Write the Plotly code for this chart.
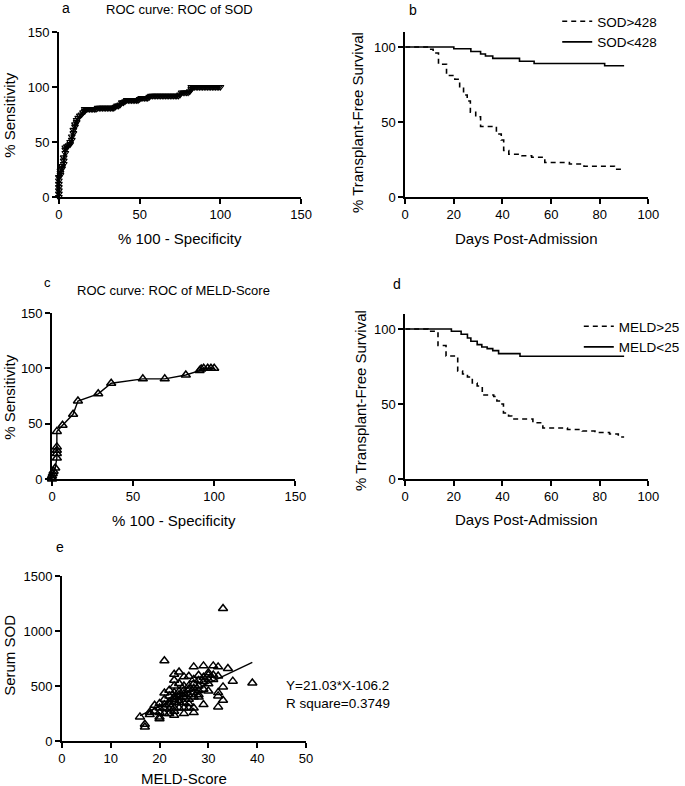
import plotly.graph_objects as go

W, H = 685, 786
FONT = "Liberation Sans, Arial, sans-serif"

# ---------------- data ----------------
# Panel a: ROC of SOD
spec_sod = [0, 0, 0, 0, 0, 0, 0, 1, 1, 1, 2, 2, 3, 3, 3, 4, 4, 4, 5, 6, 7, 7, 8, 8, 9, 9,
            10, 10, 11, 11, 12, 13, 14, 15, 16, 16, 17, 18, 19, 20, 21, 22, 23, 24, 25, 26,
            27, 28, 29, 30, 31, 32, 33, 34, 35, 36, 37, 38, 39, 40, 41, 42, 43, 44, 45, 46,
            47, 48, 49, 50, 51, 52, 53, 54, 55, 56, 57, 58, 59, 60, 61, 62, 63, 64, 65, 66,
            67, 68, 69, 70, 71, 72, 73, 74, 75, 76, 77, 78, 79, 80, 81, 82, 82, 83, 84, 85,
            86, 87, 88, 89, 90, 91, 92, 93, 94, 95, 96, 97, 98, 99, 100]
sens_sod = [0, 3, 6, 9, 12, 15, 18, 20, 22, 24, 26, 28, 30, 33, 36, 40, 43, 45, 46, 47, 48, 50,
            52, 55, 58, 61, 64, 66, 68, 70, 72, 74, 75, 77, 78, 80, 80, 80, 80, 80, 80, 80,
            80, 81, 81, 81, 81, 81, 81, 81, 81, 81, 81, 81, 82, 83, 83, 84, 86, 86, 87, 88,
            88, 88, 88, 88, 88, 88, 88, 89, 90, 90, 90, 90, 90, 91, 92, 92, 92, 92, 92, 92,
            92, 92, 92, 92, 92, 92, 92, 92, 92, 92, 92, 92, 93, 95, 95, 95, 95, 95, 96, 98,
            100, 100, 100, 100, 100, 100, 100, 100, 100, 100, 100, 100, 100, 100, 100, 100,
            100, 100, 100]

# Panel b: Kaplan-Meier by SOD
sod_hi_days = [0, 9.7, 11.5, 13.7, 17, 20.4, 22.4, 24, 25.5, 26.8, 29, 31, 37.5, 39.5, 40.5,
               42.6, 48, 52, 57.4, 67.5, 73.5, 86, 90]
sod_hi_surv = [100, 98.5, 96, 88.5, 81, 78.5, 73.5, 68, 64, 56.5, 53.5, 47, 42, 38, 31,
               28.5, 27.5, 26.5, 23, 22, 20.5, 18.5, 18.5]
sod_lo_days = [0, 20, 27, 31, 33, 36, 47, 53, 82, 90]
sod_lo_surv = [100, 98.8, 97, 95.3, 94, 92.4, 90.5, 89, 87.5, 87.5]

# Panel c: ROC of MELD-Score
spec_meld = [0, 0, 0, 0.5, 1, 2, 3, 3, 3, 3, 3, 6.5, 13, 16, 28.5, 36.5, 56, 69.5, 82.5,
             91, 92, 93.5, 96, 98, 100]
sens_meld = [0, 1, 3, 5, 7, 10, 19, 23, 26, 29, 43, 48.5, 58.5, 70.5, 77, 86.5, 90.5, 90.5,
             94, 98, 99.5, 100, 100, 100, 100]

# Panel d: Kaplan-Meier by MELD
meld_hi_days = [0, 9.4, 13.5, 16.8, 20.2, 21.6, 23.6, 25.6, 27.6, 29.6, 31.7, 36.4, 37.7,
                39.8, 40.4, 42.5, 43.8, 52.5, 56.6, 66.7, 72.8, 78, 84, 87.6, 90]
meld_hi_surv = [100, 98.5, 89, 82, 80.5, 72, 70, 68, 64, 62, 56, 55, 52, 50, 44, 42, 40,
                37.5, 34, 33, 32, 31, 30, 28, 28]
meld_lo_days = [0, 19, 23, 25.6, 27, 29.6, 31.5, 33.7, 36, 38.4, 47.2, 90]
meld_lo_surv = [100, 98.5, 96.5, 94, 91.8, 89.6, 88, 86.9, 85.6, 83.6, 81.8, 81.8]

# Panel e: MELD vs serum SOD
meld_score = [16, 17, 17, 18, 18, 19, 19, 20, 20, 20, 20, 20, 21, 21, 21, 21, 21, 21,
              22, 22, 22, 22, 22, 22, 23, 23, 23, 23, 23, 23, 23, 23, 23, 23,
              24, 24, 24, 24, 24, 24, 24, 24, 25, 25, 25, 25, 25, 25, 25, 25,
              26, 26, 26, 26, 26, 26, 26, 27, 27, 27, 27, 27, 27, 27, 27,
              28, 28, 28, 28, 28, 28, 29, 29, 29, 29, 29, 30, 30, 30, 30, 30,
              31, 31, 31, 32, 32, 32, 32, 32, 33, 33, 33, 34, 35, 39]
serum_sod = [219, 152, 128, 240, 262, 325, 270, 203, 219, 340, 300, 260, 729, 437, 380, 300,
             250, 330, 462, 355, 290, 410, 250, 330, 607, 553, 501, 234, 400, 350, 300, 270,
             440, 380, 628, 522, 450, 400, 350, 300, 420, 370, 583, 249, 500, 460, 400, 350,
             300, 430, 589, 501, 420, 470, 380, 300, 340, 674, 258, 520, 480, 440, 400, 300,
             560, 598, 550, 500, 460, 420, 400, 683, 331, 580, 540, 470, 455, 600, 560, 520,
             620, 683, 600, 560, 674, 310, 440, 410, 590, 1205, 492, 370, 659, 544, 528]
fit_x = [16, 39]
fit_y = [230, 714]

# ---------------- helpers ----------------
def fx(px):
    return px / W

def fy(py):
    return 1 - py / H

axis_style = dict(
    showline=True, linecolor="black", linewidth=1.6,
    ticks="outside", ticklen=5, tickwidth=1.5, tickcolor="black",
    showgrid=False, zeroline=False, automargin=False,
    tickfont=dict(family=FONT, size=13, color="black"),
)

fig = go.Figure()

# a
fig.add_trace(go.Scatter(
    x=spec_sod, y=sens_sod, mode="lines+markers", xaxis="x", yaxis="y",
    line=dict(color="black", width=2.5),
    marker=dict(symbol="triangle-down-open", size=6, color="black", line=dict(width=1.2)),
    cliponaxis=False, showlegend=False))

# b
fig.add_trace(go.Scatter(
    x=sod_hi_days, y=sod_hi_surv, mode="lines", line_shape="hv", xaxis="x2", yaxis="y2",
    line=dict(color="black", width=1.6, dash="5px,4px"), name="SOD>428", legend="legend"))
fig.add_trace(go.Scatter(
    x=sod_lo_days, y=sod_lo_surv, mode="lines", line_shape="hv", xaxis="x2", yaxis="y2",
    line=dict(color="black", width=1.6), name="SOD<428", legend="legend"))

# c
fig.add_trace(go.Scatter(
    x=spec_meld, y=sens_meld, mode="lines+markers", xaxis="x3", yaxis="y3",
    line=dict(color="black", width=1.4),
    marker=dict(symbol="triangle-up-open", size=8, color="black", line=dict(width=1.5)),
    cliponaxis=False, showlegend=False))

# d
fig.add_trace(go.Scatter(
    x=meld_hi_days, y=meld_hi_surv, mode="lines", line_shape="hv", xaxis="x4", yaxis="y4",
    line=dict(color="black", width=1.6, dash="5px,4px"), name="MELD>25", legend="legend2"))
fig.add_trace(go.Scatter(
    x=meld_lo_days, y=meld_lo_surv, mode="lines", line_shape="hv", xaxis="x4", yaxis="y4",
    line=dict(color="black", width=1.6), name="MELD<25", legend="legend2"))

# e
fig.add_trace(go.Scatter(
    x=meld_score, y=serum_sod, mode="markers", xaxis="x5", yaxis="y5",
    marker=dict(symbol="triangle-up-open", size=8, color="black", line=dict(width=1.5)),
    cliponaxis=False, showlegend=False))
fig.add_trace(go.Scatter(
    x=fit_x, y=fit_y, mode="lines", xaxis="x5", yaxis="y5",
    line=dict(color="black", width=1.4), showlegend=False))

fig.update_layout(
    width=W, height=H, margin=dict(l=0, r=0, t=0, b=0),
    paper_bgcolor="white", plot_bgcolor="white",
    font=dict(family=FONT, size=13, color="black"),
    xaxis=dict(domain=[fx(60), fx(307)], anchor="y", range=[0, 150], tickvals=[0, 50, 100, 150], **axis_style),
    yaxis=dict(domain=[fy(197), fy(32)], anchor="x", range=[0, 150], tickvals=[0, 50, 100, 150], **axis_style),
    xaxis2=dict(domain=[fx(413), fx(661)], anchor="y2", range=[0, 100], tickvals=[0, 20, 40, 60, 80, 100], **axis_style),
    yaxis2=dict(domain=[fy(197), fy(32)], anchor="x2", range=[0, 110], tickvals=[0, 50, 100], **axis_style),
    xaxis3=dict(domain=[fx(53), fx(301)], anchor="y3", range=[0, 150], tickvals=[0, 50, 100, 150], **axis_style),
    yaxis3=dict(domain=[fy(479), fy(313)], anchor="x3", range=[0, 150], tickvals=[0, 50, 100, 150], **axis_style),
    xaxis4=dict(domain=[fx(413), fx(661)], anchor="y4", range=[0, 100], tickvals=[0, 20, 40, 60, 80, 100], **axis_style),
    yaxis4=dict(domain=[fy(479), fy(314)], anchor="x4", range=[0, 110], tickvals=[0, 50, 100], **axis_style),
    xaxis5=dict(domain=[fx(63), fx(312)], anchor="y5", range=[0, 50], tickvals=[0, 10, 20, 30, 40, 50], **axis_style),
    yaxis5=dict(domain=[fy(741), fy(576)], anchor="x5", range=[0, 1500], tickvals=[0, 500, 1000, 1500], **axis_style),
    legend=dict(x=fx(568), y=fy(6), xanchor="left", yanchor="top", bgcolor="rgba(0,0,0,0)",
                font=dict(family=FONT, size=13.5, color="black"), tracegroupgap=0, itemwidth=30),
    legend2=dict(x=fx(590), y=fy(311), xanchor="left", yanchor="top", bgcolor="rgba(0,0,0,0)",
                 font=dict(family=FONT, size=13.5, color="black"), tracegroupgap=0, itemwidth=30),
)

def ann(text, x, y, size=13, angle=0, xanchor="center", align="center"):
    fig.add_annotation(text=text, x=fx(x), y=fy(y), xref="paper", yref="paper",
                       showarrow=False, textangle=angle, xanchor=xanchor, yanchor="middle",
                       align=align, font=dict(family=FONT, size=size, color="black"))

# panel labels
ann("a", 67, 8, 14)
ann("b", 421, 10, 14)
ann("c", 48, 282, 13)
ann("d", 405, 284, 14)
ann("e", 61, 547, 14)
# titles
ann("ROC curve: ROC of SOD", 183, 10, 13)
ann("ROC curve: ROC of MELD-Score", 177, 290, 13)
# axis titles
ann("% 100 - Specificity", 183, 238, 15)
ann("% Sensitivity", 9, 115, 15, angle=-90)
ann("Days Post-Admission", 537, 238, 15)
ann("% Transplant-Free Survival", 365, 123, 15, angle=-90)
ann("% 100 - Specificity", 177, 520, 15)
ann("% Sensitivity", 9, 397, 15, angle=-90)
ann("Days Post-Admission", 537, 519, 15)
ann("% Transplant-Free Survival", 367, 401, 15, angle=-90)
ann("MELD-Score", 188, 778, 15)
ann("Serum SOD", 9, 655, 15, angle=-90)
# regression text
ann("Y=21.03*X-106.2<br>R square=0.3749", 290, 694, 13.5, xanchor="left", align="left")

fig.write_html("out.html", config={"displayModeBar": False},
               post_script="document.body.style.margin='0px';document.body.style.padding='0px';")
